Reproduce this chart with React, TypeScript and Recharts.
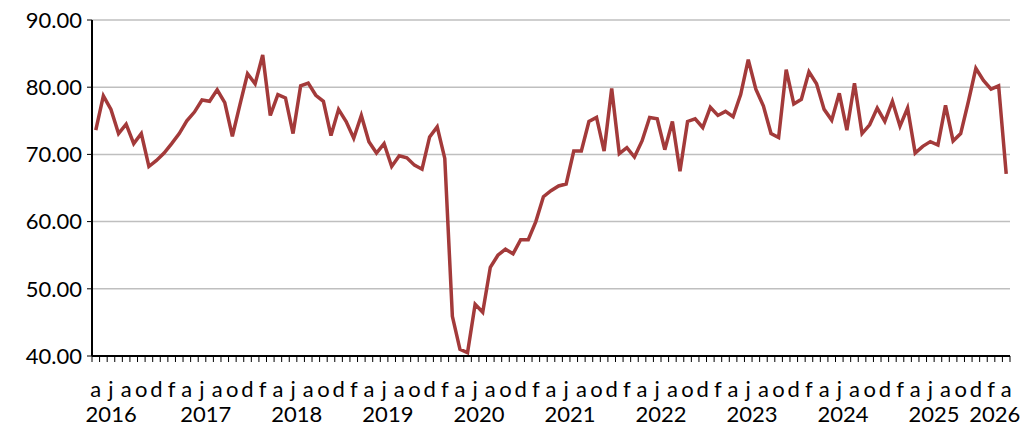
import { CartesianGrid, Line, LineChart, XAxis, YAxis } from "recharts";

// monthly index, April 2016 .. April 2026
const startYear = 2016;
const startMonth = 3; // april, 0-based
const monthLetters = ["j", "f", "m", "a", "m", "j", "j", "a", "s", "o", "n", "d"];

const values = [
  73.6, 78.7, 76.7, 73.1, 74.5, 71.6, 73.1, 68.2, 69.1, 70.2,
  71.6, 73.1, 75.0, 76.3, 78.1, 77.9, 79.6, 77.7, 72.7, 77.4,
  82.0, 80.5, 84.8, 75.8, 78.9, 78.4, 73.1, 80.2, 80.6, 78.8,
  77.9, 72.8, 76.7, 74.9, 72.4, 75.8, 71.9, 70.2, 71.6, 68.2,
  69.8, 69.5, 68.4, 67.8, 72.6, 74.1, 69.4, 45.9, 41.0, 40.5,
  47.7, 46.5, 53.2, 55.0, 55.9, 55.2, 57.3, 57.3, 60.0, 63.7,
  64.6, 65.3, 65.6, 70.5, 70.5, 74.9, 75.5, 70.5, 79.8, 70.1,
  71.0, 69.6, 72.0, 75.5, 75.3, 70.7, 74.9, 67.5, 74.9, 75.3,
  74.0, 77.0, 75.8, 76.4, 75.6, 78.9, 84.1, 79.7, 77.2, 73.1,
  72.5, 82.6, 77.5, 78.2, 82.3, 80.5, 76.7, 75.1, 79.1, 73.6,
  80.6, 73.1, 74.4, 76.9, 74.9, 77.9, 74.2, 76.9, 70.2, 71.2,
  71.9, 71.4, 77.3, 72.0, 73.1, 77.8, 82.8, 81.0, 79.7, 80.2,
  67.1,
];

const yTicks = [40, 50, 60, 70, 80, 90];

const data = values.map((v, i) => {
  const m = startMonth + i;
  return { idx: i, year: startYear + Math.floor(m / 12), month: m % 12, value: v };
});

// first index + length of each year group (for centred year labels)
const yearGroups: Record<number, { first: number; count: number }> = {};
data.forEach((d) => {
  if (!yearGroups[d.year]) yearGroups[d.year] = { first: d.idx, count: 0 };
  yearGroups[d.year].count++;
});

const W = 1033;
const H = 427;
const M = { top: 20, right: 23, bottom: 0, left: 0 };
const Y_W = 92;
const X_H = 71;
const plotW = W - M.left - M.right - Y_W;
const step = plotW / data.length;
const axisY = H - X_H;
const FONT = "Lato, 'Open Sans', sans-serif";

function MonthTick(props: any) {
  const { x, payload } = props;
  const i = payload.index ?? payload.value;
  const d = data[i];
  const left = x - step / 2;
  const g = yearGroups[d.year];
  let yearX = null as number | null;
  if (g.first === i) {
    yearX = left + (g.count * step) / 2;
    if (i === 0) yearX -= 15; // excel pushes the first year label left
  }
  return (
    <g>
      <line x1={left} x2={left} y1={axisY} y2={axisY + 6} stroke="#000" strokeWidth={1} />
      {i === data.length - 1 && (
        <line x1={x + step / 2} x2={x + step / 2} y1={axisY} y2={axisY + 6} stroke="#000" strokeWidth={1} />
      )}
      {i % 2 === 0 && (
        <text x={x} y={axisY + 41} textAnchor="middle" fontSize={22} fontFamily={FONT} fill="#000">
          {monthLetters[d.month]}
        </text>
      )}
      {yearX !== null && (
        <text x={yearX} y={axisY + 66} textAnchor="middle" fontSize={22} fontFamily={FONT} fill="#000">
          {d.year}
        </text>
      )}
    </g>
  );
}

export default function App() {
  return (
    <div style={{ position: "absolute", left: 0, top: 0, background: "#fff" }}>
      <LineChart width={W} height={H} data={data} margin={M}>
        <CartesianGrid horizontal vertical={false} stroke="#BFBFBF" strokeWidth={1.5} />
        <XAxis
          dataKey="idx"
          type="category"
          interval={0}
          height={X_H}
          padding={{ left: step / 2, right: step / 2 }}
          axisLine={{ stroke: "#000", strokeWidth: 2 }}
          tickLine={false}
          tick={<MonthTick />}
        />
        <XAxis
          xAxisId="top"
          dataKey="idx"
          orientation="top"
          height={0}
          tick={false}
          tickLine={false}
          axisLine={{ stroke: "#000", strokeWidth: 2 }}
        />
        <YAxis
          domain={[40, 90]}
          ticks={yTicks}
          width={Y_W}
          tickSize={5}
          tickMargin={5}
          tickFormatter={(v: number) => v.toFixed(2)}
          tick={{ fontSize: 22, fontFamily: FONT, fill: "#000" }}
          axisLine={{ stroke: "#000", strokeWidth: 2 }}
          tickLine={{ stroke: "#000" }}
        />
        <YAxis
          yAxisId="right"
          orientation="right"
          domain={[40, 90]}
          width={0}
          tick={false}
          tickLine={false}
          axisLine={{ stroke: "#000", strokeWidth: 1.5 }}
        />
        <Line
          dataKey="value"
          stroke="#A33A3A"
          strokeWidth={3.5}
          dot={false}
          isAnimationActive={false}
        />
      </LineChart>
    </div>
  );
}
